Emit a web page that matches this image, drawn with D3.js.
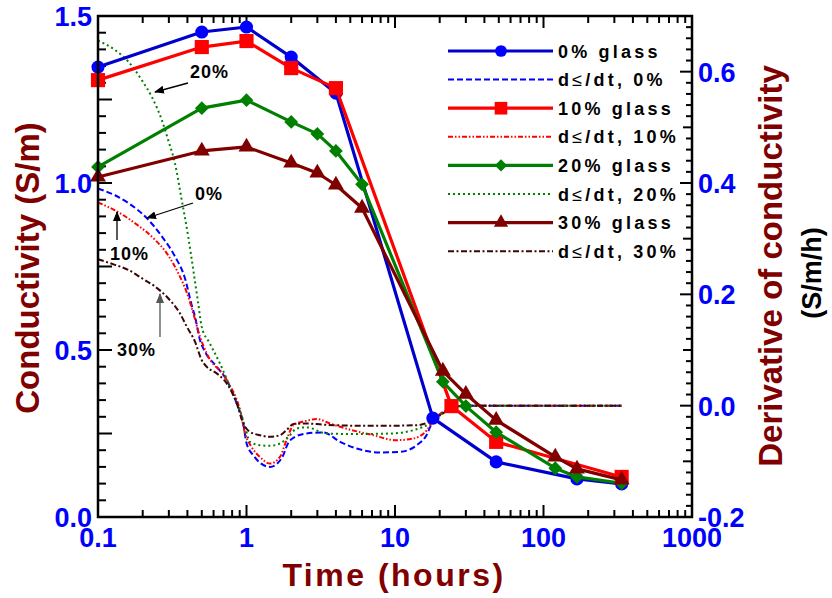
<!DOCTYPE html>
<html>
<head>
<meta charset="utf-8">
<script src="https://cdn.jsdelivr.net/npm/d3@7"></script>
<style>
  body { margin: 0; background: #fff; }
  text { font-family: Arial, "Liberation Sans", sans-serif; font-weight: bold; }
</style>
</head>
<body>
<svg id="chart" width="832" height="598"></svg>
<script>
// conductivity (left axis, S/m)
const times0 = [0.1, 0.5, 1, 2, 4, 18, 48, 168, 336];
const glass0 = [1.347, 1.452, 1.467, 1.377, 1.269, 0.296, 0.165, 0.114, 0.099];
const times10 = [0.1, 0.5, 1, 2, 4, 24, 48, 336];
const glass10 = [1.308, 1.407, 1.425, 1.344, 1.284, 0.332, 0.225, 0.12];
const times20 = [0.1, 0.5, 1, 2, 3, 4, 6, 21, 30, 48, 120, 168, 336];
const glass20 = [1.048, 1.224, 1.248, 1.183, 1.147, 1.096, 0.996, 0.405, 0.332, 0.254, 0.146, 0.12, 0.101];
const times30 = [0.1, 0.5, 1, 2, 3, 4, 6, 21, 30, 48, 120, 168, 336];
const glass30 = [1.018, 1.096, 1.108, 1.06, 1.03, 0.994, 0.925, 0.437, 0.368, 0.29, 0.18, 0.144, 0.111];

// derivative (right axis, S/m/h)
const dTimes0 = [0.1, 0.13, 0.16, 0.213, 0.269, 0.33, 0.385, 0.427, 0.45, 0.486, 0.525, 0.63, 0.736, 0.859, 0.951, 1.0, 1.11, 1.44, 1.73, 1.91, 2.12, 2.54, 3.29, 4.27, 5.52, 7.93, 10.8, 14, 16.3, 17.7, 20, 24, 30, 50, 100, 200, 336];
const deriv0 = [0.39, 0.378, 0.364, 0.337, 0.304, 0.268, 0.229, 0.181, 0.16, 0.118, 0.097, 0.07, 0.046, 0.004, -0.032, -0.067, -0.089, -0.11, -0.094, -0.067, -0.056, -0.05, -0.048, -0.065, -0.077, -0.084, -0.083, -0.071, -0.053, -0.032, -0.016, -0.004, 0, 0, 0, 0, 0];
const dTimes10 = [0.1, 0.134, 0.177, 0.242, 0.29, 0.347, 0.405, 0.438, 0.486, 0.539, 0.736, 0.903, 0.978, 1.08, 1.23, 1.44, 1.68, 1.86, 2.07, 2.54, 2.97, 3.65, 4.27, 7.13, 10.2, 13.3, 16.4, 18.1, 21, 25, 30, 50, 100, 200, 336];
const deriv10 = [0.365, 0.349, 0.328, 0.298, 0.274, 0.238, 0.196, 0.166, 0.124, 0.094, 0.046, -0.008, -0.05, -0.074, -0.092, -0.104, -0.092, -0.062, -0.035, -0.027, -0.024, -0.032, -0.038, -0.053, -0.062, -0.059, -0.044, -0.026, -0.012, -0.002, 0, 0, 0, 0, 0];
const dTimes20 = [0.1, 0.13, 0.16, 0.197, 0.23, 0.269, 0.297, 0.33, 0.366, 0.405, 0.438, 0.473, 0.499, 0.566, 0.662, 0.774, 0.903, 0.978, 1.055, 1.23, 1.44, 1.68, 1.96, 2.17, 2.54, 3.46, 5.52, 9.27, 13.3, 17.2, 21, 25, 30, 50, 100, 200, 336];
const deriv20 = [0.656, 0.639, 0.618, 0.585, 0.555, 0.513, 0.477, 0.435, 0.37, 0.304, 0.244, 0.184, 0.142, 0.112, 0.076, 0.034, -0.008, -0.038, -0.065, -0.071, -0.072, -0.068, -0.053, -0.041, -0.039, -0.05, -0.051, -0.05, -0.044, -0.032, -0.014, -0.003, 0, 0, 0, 0, 0];
const dTimes30 = [0.1, 0.13, 0.16, 0.197, 0.242, 0.297, 0.356, 0.396, 0.45, 0.499, 0.539, 0.63, 0.736, 0.859, 0.951, 1.055, 1.23, 1.44, 1.68, 1.86, 2.07, 2.54, 3.29, 5.52, 9.27, 14, 17.2, 21, 25, 30, 50, 100, 200, 336];
const deriv30 = [0.263, 0.253, 0.244, 0.229, 0.214, 0.193, 0.166, 0.142, 0.115, 0.082, 0.07, 0.058, 0.04, 0.004, -0.032, -0.047, -0.053, -0.056, -0.053, -0.044, -0.033, -0.032, -0.034, -0.036, -0.036, -0.035, -0.029, -0.014, -0.003, 0, 0, 0, 0, 0];

// tick labels
const xTickValues = [0.1, 1, 10, 100, 1000];
const xTickLabels = ["0.1", "1", "10", "100", "1000"];
const yLeftTicks = [0, 0.5, 1.0, 1.5];
const yLeftLabels = ["0.0", "0.5", "1.0", "1.5"];
const yRightTicks = [-0.2, 0, 0.2, 0.4, 0.6];
const yRightLabels = ["-0.2", "0.0", "0.2", "0.4", "0.6"];

const BLUE = "#0000ff";
const DARKRED = "#800000";

const svg = d3.select("#chart");
const plot = { left: 98, right: 692, top: 16, bottom: 517 };

const x = d3.scaleLog().domain([0.1, 1000]).range([plot.left, plot.right]);
const yL = d3.scaleLinear().domain([0, 1.5]).range([plot.bottom, plot.top]);
const yR = d3.scaleLinear().domain([-0.2, 0.7]).range([plot.bottom, plot.top]);

const glassSeries = [
  { times: times0, values: glass0, line: "#0000cd", fill: "#0000ff", symbol: "circle", name: "0% glass" },
  { times: times10, values: glass10, line: "#ff0000", fill: "#ff0000", symbol: "square", name: "10% glass" },
  { times: times20, values: glass20, line: "#008000", fill: "#008000", symbol: "diamond", name: "20% glass" },
  { times: times30, values: glass30, line: "#800000", fill: "#800000", symbol: "triangle", name: "30% glass" },
];
const derivSeries = [
  { times: dTimes0, values: deriv0, color: "#0000ff", dash: "6,3", pct: "0%" },
  { times: dTimes10, values: deriv10, color: "#ff0000", dash: "5,2,1.5,2,1.5,2", pct: "10%" },
  { times: dTimes20, values: deriv20, color: "#008000", dash: "2,3", pct: "20%" },
  { times: dTimes30, values: deriv30, color: "#3a0606", dash: "6,2.5,2,2.5", pct: "30%" },
];

function symbolPath(kind, scale) {
  const s = scale || 1;
  if (kind === "circle") return d3.symbol(d3.symbolCircle, 135 * s)();
  if (kind === "square") return d3.symbol(d3.symbolSquare, 200 * s)();
  if (kind === "diamond") return d3.symbol(d3.symbolSquare, 95 * s)();
  return d3.symbol(d3.symbolTriangle, 110 * s)();
}

// ticks (all inward)
function logMinor() {
  const out = [];
  for (let d = 0.1; d < 1000; d *= 10) for (let k = 1; k < 10; k++) out.push(d * k);
  return out.map((v) => +v.toPrecision(3));
}
const xMinor = logMinor().filter((v) => !xTickValues.includes(v));

const ticks = svg.append("g").attr("stroke", "#000").attr("stroke-width", 2);
xMinor.forEach((v) => {
  ticks.append("line").attr("x1", x(v)).attr("x2", x(v)).attr("y1", plot.bottom).attr("y2", plot.bottom - 7);
  ticks.append("line").attr("x1", x(v)).attr("x2", x(v)).attr("y1", plot.top).attr("y2", plot.top + 7);
});
xTickValues.forEach((v) => {
  ticks.append("line").attr("x1", x(v)).attr("x2", x(v)).attr("y1", plot.bottom).attr("y2", plot.bottom - 12);
  ticks.append("line").attr("x1", x(v)).attr("x2", x(v)).attr("y1", plot.top).attr("y2", plot.top + 12);
});
d3.range(0, 31).forEach((i) => {
  const v = i * 0.05;
  const len = i % 5 === 0 ? 14 : 8;
  ticks.append("line").attr("x1", plot.left).attr("x2", plot.left + len).attr("y1", yL(v)).attr("y2", yL(v));
});
d3.range(0, 46).forEach((i) => {
  const v = -0.2 + i * 0.02;
  const len = i % 10 === 0 ? 12 : i % 5 === 0 ? 9 : 6;
  ticks.append("line").attr("x1", plot.right).attr("x2", plot.right - len).attr("y1", yR(v)).attr("y2", yR(v));
});

// derivative curves
const dLine = d3.line().x((d) => x(d[0])).y((d) => yR(d[1])).curve(d3.curveMonotoneX);
derivSeries.forEach((s) => {
  svg.append("path")
    .attr("d", dLine(s.times.map((t, i) => [t, s.values[i]])))
    .attr("fill", "none")
    .attr("stroke", s.color)
    .attr("stroke-width", 2)
    .attr("stroke-dasharray", s.dash);
});

// conductivity series
const gLine = d3.line().x((d) => x(d[0])).y((d) => yL(d[1]));
glassSeries.forEach((s) => {
  const pts = s.times.map((t, i) => [t, s.values[i]]);
  svg.append("path")
    .attr("d", gLine(pts))
    .attr("fill", "none")
    .attr("stroke", s.line)
    .attr("stroke-width", 3.2)
    .attr("stroke-linejoin", "round");
  svg.append("g").selectAll("path").data(pts).join("path")
    .attr("d", symbolPath(s.symbol))
    .attr("transform", (d) => `translate(${x(d[0])},${yL(d[1])})` + (s.symbol === "diamond" ? " rotate(45)" : ""))
    .attr("fill", s.fill);
});

// frame
svg.append("rect")
  .attr("x", plot.left).attr("y", plot.top)
  .attr("width", plot.right - plot.left).attr("height", plot.bottom - plot.top)
  .attr("fill", "none").attr("stroke", "#000").attr("stroke-width", 2.5);

// tick labels
xTickValues.forEach((v, i) => {
  svg.append("text").attr("x", x(v)).attr("y", 547).attr("text-anchor", "middle")
    .attr("font-size", 27).attr("fill", BLUE).text(xTickLabels[i]);
});
yLeftTicks.forEach((v, i) => {
  svg.append("text").attr("x", 92).attr("y", yL(v) + 10).attr("text-anchor", "end")
    .attr("font-size", 27).attr("fill", BLUE).text(yLeftLabels[i]);
});
yRightTicks.forEach((v, i) => {
  svg.append("text").attr("x", 698).attr("y", yR(v) + 10).attr("text-anchor", "start")
    .attr("font-size", 27).attr("fill", BLUE).text(yRightLabels[i]);
});

// axis titles
svg.append("text").attr("x", 394).attr("y", 586).attr("text-anchor", "middle")
  .attr("font-size", 32).attr("letter-spacing", 2.5).attr("fill", DARKRED).text("Time (hours)");
svg.append("text").attr("transform", "translate(39,268) rotate(-90)").attr("text-anchor", "middle")
  .attr("font-size", 33).attr("fill", DARKRED).text("Conductivity (S/m)");
svg.append("text").attr("transform", "translate(782,266) rotate(-90)").attr("text-anchor", "middle")
  .attr("font-size", 33).attr("fill", DARKRED).text("Derivative of conductivity");
svg.append("text").attr("transform", "translate(821,273) rotate(-90)").attr("text-anchor", "middle")
  .attr("font-size", 27).attr("fill", "#000").text("(S/m/h)");

// legend
const legendRows = [];
glassSeries.forEach((s, i) => {
  legendRows.push({ kind: "glass", s });
  legendRows.push({ kind: "deriv", s: derivSeries[i] });
});
const legend = svg.append("g");
legendRows.forEach((r, i) => {
  const cy = 51 + i * 28.6;
  const row = legend.append("g").attr("transform", `translate(0,${cy})`);
  if (r.kind === "glass") {
    row.append("line").attr("x1", 448).attr("x2", 553).attr("y1", 0).attr("y2", 0)
      .attr("stroke", r.s.line).attr("stroke-width", 3.2);
    row.append("path").attr("d", symbolPath(r.s.symbol, 0.8))
      .attr("transform", "translate(501,0)" + (r.s.symbol === "diamond" ? " rotate(45)" : ""))
      .attr("fill", r.s.fill);
    row.append("text").attr("x", 558).attr("y", 6.5).attr("font-size", 18).attr("letter-spacing", 3.2)
      .attr("fill", "#000").text(r.s.name);
  } else {
    row.append("line").attr("x1", 448).attr("x2", 553).attr("y1", 0).attr("y2", 0)
      .attr("stroke", r.s.color).attr("stroke-width", 2).attr("stroke-dasharray", r.s.dash);
    const t = row.append("text").attr("x", 558).attr("y", 6.5).attr("font-size", 18).attr("letter-spacing", 3.2).attr("fill", "#000");
    t.append("tspan").text("d");
    t.append("tspan").attr("font-weight", "normal").text("\u2264");
    t.append("tspan").text(`/dt, ${r.s.pct}`);
  }
});

// annotations
const defs = svg.append("defs");
["#000", "#555"].forEach((c, i) => {
  defs.append("marker").attr("id", `arrow${i}`).attr("viewBox", "0 0 10 10")
    .attr("refX", 9).attr("refY", 5).attr("markerWidth", 10).attr("markerHeight", 10)
    .attr("markerUnits", "userSpaceOnUse").attr("orient", "auto")
    .append("path").attr("d", "M0,1 L10,5 L0,9 Z").attr("fill", c);
});
const annotations = [
  { label: "20%", tx: 190, ty: 78, from: [188, 83], to: [155, 92], c: 0 },
  { label: "0%", tx: 195, ty: 200, from: [193, 203], to: [147, 218], c: 0 },
  { label: "10%", tx: 110, ty: 260, from: [117, 240], to: [117, 212], c: 0 },
  { label: "30%", tx: 117, ty: 356, from: [160, 337], to: [160, 294], c: 1 },
];
annotations.forEach((a) => {
  svg.append("line").attr("x1", a.from[0]).attr("y1", a.from[1]).attr("x2", a.to[0]).attr("y2", a.to[1])
    .attr("stroke", a.c ? "#555" : "#000").attr("stroke-width", 1.3).attr("marker-end", `url(#arrow${a.c})`);
  svg.append("text").attr("x", a.tx).attr("y", a.ty).attr("font-size", 18).attr("letter-spacing", 1)
    .attr("fill", "#000").text(a.label);
});
</script>
</body>
</html>
